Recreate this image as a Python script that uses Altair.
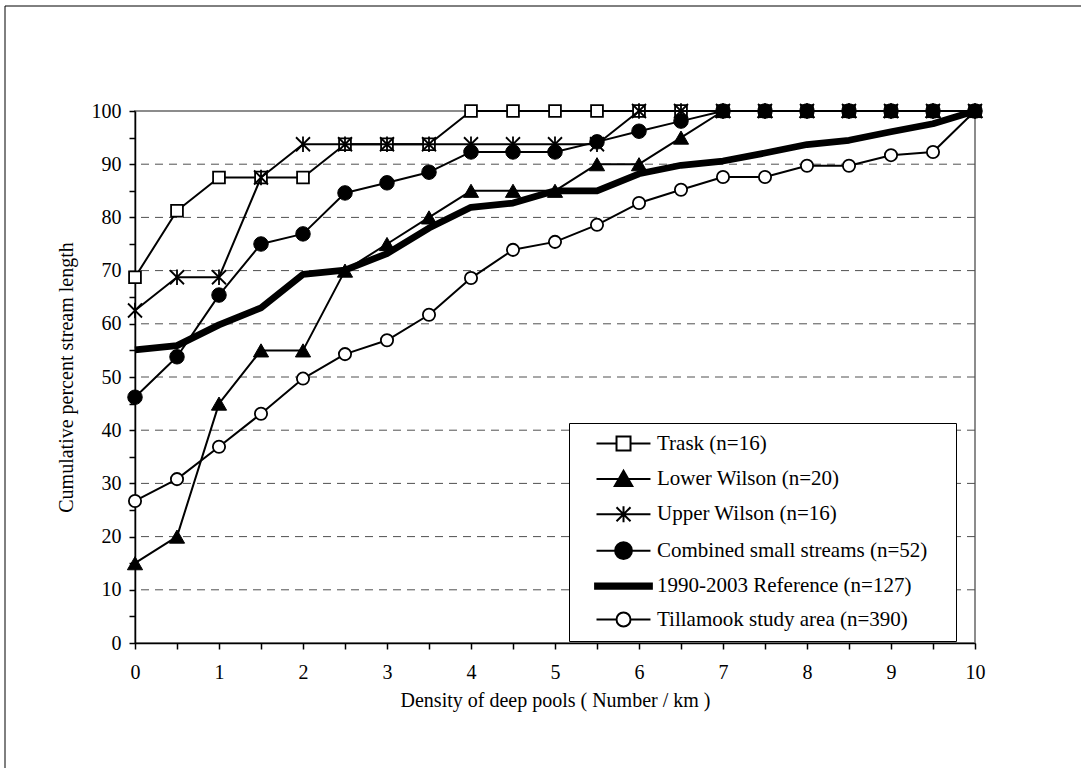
import altair as alt
import pandas as pd

# Density of deep pools (number / km) at which each cumulative value is read
density = [0, 0.5, 1, 1.5, 2, 2.5, 3, 3.5, 4, 4.5, 5, 5.5, 6, 6.5, 7, 7.5, 8, 8.5, 9, 9.5, 10]

# Cumulative percent of stream length per group
trask = [68.75, 81.25, 87.5, 87.5, 87.5, 93.75, 93.75, 93.75, 100, 100, 100,
         100, 100, 100, 100, 100, 100, 100, 100, 100, 100]
lower_wilson = [15, 20, 45, 55, 55, 70, 75, 80, 85, 85, 85,
                90, 90, 95, 100, 100, 100, 100, 100, 100, 100]
upper_wilson = [62.5, 68.75, 68.75, 87.5, 93.75, 93.75, 93.75, 93.75, 93.75, 93.75, 93.75,
                93.75, 100, 100, 100, 100, 100, 100, 100, 100, 100]
combined_small = [46.2, 53.8, 65.4, 75.0, 76.9, 84.6, 86.5, 88.5, 92.3, 92.3, 92.3,
                  94.2, 96.2, 98.1, 100, 100, 100, 100, 100, 100, 100]
reference = [55.1, 55.9, 59.8, 63.0, 69.3, 70.1, 73.2, 78.0, 81.9, 82.7, 85.0,
             85.0, 88.2, 89.8, 90.6, 92.1, 93.7, 94.5, 96.1, 97.6, 100]
tillamook = [26.7, 30.8, 36.9, 43.1, 49.7, 54.3, 56.9, 61.7, 68.6, 73.9, 75.4,
             78.6, 82.7, 85.2, 87.6, 87.6, 89.7, 89.7, 91.7, 92.3, 100]

series_names = [
    "Trask (n=16)",
    "Lower Wilson (n=20)",
    "Upper Wilson (n=16)",
    "Combined small streams (n=52)",
    "1990-2003 Reference (n=127)",
    "Tillamook study area (n=390)",
]
series_values = [trask, lower_wilson, upper_wilson, combined_small, reference, tillamook]

# Drawing order: the study-area curve sits underneath the others
draw_order = [
    "Tillamook study area (n=390)",
    "Trask (n=16)",
    "Lower Wilson (n=20)",
    "Upper Wilson (n=16)",
    "Combined small streams (n=52)",
    "1990-2003 Reference (n=127)",
]

grid_values = [10, 20, 30, 40, 50, 60, 70, 80, 90]
x_ticks = [0, 0.5, 1, 1.5, 2, 2.5, 3, 3.5, 4, 4.5, 5, 5.5, 6, 6.5, 7, 7.5, 8, 8.5, 9, 9.5, 10]
y_ticks = [0, 5, 10, 15, 20, 25, 30, 35, 40, 45, 50, 55, 60, 65, 70, 75, 80, 85, 90, 95, 100]

rows = []
for name, vals in zip(series_names, series_values):
    for d, v in zip(density, vals):
        rows.append({"series": name, "density": d, "pct": v})
df = pd.DataFrame(rows)

FONT = "Liberation Serif"
X_TITLE = "Density of deep pools ( Number / km )"
Y_TITLE = "Cumulative percent stream length"

x_enc = alt.X(
    "density:Q",
    title=X_TITLE,
    scale=alt.Scale(domain=[0, 10], nice=False, zero=False),
    axis=alt.Axis(
        values=x_ticks,
        labelExpr="datum.value % 1 == 0 ? format(datum.value, 'd') : ''",
        tickSize=6,
        labelPadding=13,
        titlePadding=8,
        labelFlush=False,
    ),
)
y_axis = alt.Axis(
    values=y_ticks,
    labelExpr="datum.value % 10 == 0 ? format(datum.value, 'd') : ''",
    tickSize=6,
    labelPadding=8,
    titlePadding=15,
)
y_scale = alt.Scale(domain=[0, 100], nice=False)
y_enc = alt.Y("pct:Q", title=Y_TITLE, scale=y_scale, axis=y_axis)

# Marker style per series (None = line only)
asterisk = "M-1,-1L1,1M-1,1L1,-1M0,-1.1L0,1.1"
marker_styles = {
    "Trask (n=16)": dict(shape="square", fill="white", size=140, strokeWidth=1.8),
    "Lower Wilson (n=20)": dict(shape="triangle-up", fill="black", size=230, strokeWidth=1),
    "Upper Wilson (n=16)": dict(shape=asterisk, fill="transparent", size=196, strokeWidth=1.8),
    "Combined small streams (n=52)": dict(shape="circle", fill="black", size=210, strokeWidth=1),
    "1990-2003 Reference (n=127)": None,
    "Tillamook study area (n=390)": dict(shape="circle", fill="white", size=150, strokeWidth=1.8),
}
line_widths = {name: 2 for name in series_names}
line_widths["1990-2003 Reference (n=127)"] = 6.8

grid = (
    alt.Chart(pd.DataFrame({"g": grid_values}))
    .mark_rule(color="#505050", strokeDash=[8, 6], strokeWidth=1)
    .encode(y=alt.Y("g:Q", title=Y_TITLE, scale=y_scale, axis=y_axis))
)

layers = [grid]
for name in draw_order:
    sub = alt.Chart(df).transform_filter(alt.datum.series == name)
    layers.append(
        sub.mark_line(color="black", strokeWidth=line_widths[name], strokeJoin="round")
        .encode(x=x_enc, y=y_enc)
    )
    style = marker_styles[name]
    if style is not None:
        layers.append(
            sub.mark_point(
                shape=style["shape"],
                filled=True,
                fill=style["fill"],
                stroke="black",
                strokeWidth=style["strokeWidth"],
                size=style["size"],
                opacity=1,
            ).encode(x=x_enc, y=y_enc)
        )

# Legend symbols: line segment with the series marker on it
a, b, m, ext = 1.0, 8.71, 4.86, 50.3
legend_paths = [
    f"M{a},0H{m-1.0}M{m+1.0},0H{b}M{m-1.0},-1.0H{m+1.0}V1.0H{m-1.0}ZM{ext},0",
    f"M{a},0H{b}M{m},-1.15L{m+1.25},1.0L{m-1.25},1.0ZM{ext},0",
    f"M{a},0H{b}M{m-1.0},-1.0L{m+1.0},1.0M{m-1.0},1.0L{m+1.0},-1.0M{m},-1.15V1.15M{ext},0",
    f"M{a},0H{b}M{m+1.2},0A1.2,1.2 0 1,1 {m-1.2},0A1.2,1.2 0 1,1 {m+1.2},0ZM{ext},0",
    f"M{a-0.2},-0.38H{b+0.2}V0.38H{a-0.2}ZM{ext},0",
    f"M{a},0H{m-1.0}M{m+1.0},0H{b}M{m+1.0},0A1.0,1.0 0 1,1 {m-1.0},0A1.0,1.0 0 1,1 {m+1.0},0ZM{ext},0",
]
legend_fills = ["white", "black", "white", "black", "black", "white"]
legend_strokes = ["black"] * 6

legend_def = alt.Legend(
    title=None,
    orient="none",
    legendX=434,
    legendY=312,
    padding=10,
    strokeColor="black",
    fillColor="white",
    symbolSize=196,
    symbolStrokeWidth=2,
    symbolStrokeColor="black",
    symbolOpacity=1,
    labelOffset=57,
    rowPadding=11.4,
    labelFont=FONT,
    labelFontSize=21,
    labelColor="black",
    labelLimit=500,
)
legend_layer = (
    alt.Chart(df)
    .transform_filter("false")
    .mark_point(filled=True, strokeWidth=2, opacity=1)
    .encode(
        shape=alt.Shape("series:N", scale=alt.Scale(domain=series_names, range=legend_paths), legend=legend_def),
        fill=alt.Fill("series:N", scale=alt.Scale(domain=series_names, range=legend_fills), legend=legend_def),
        stroke=alt.Stroke("series:N", scale=alt.Scale(domain=series_names, range=legend_strokes), legend=legend_def),
    )
)
layers.append(legend_layer)

# Page frame lines along the left and top edges
frame_src = pd.DataFrame({"k": [0]})
frame_left = alt.Chart(frame_src).mark_rule(color="black", strokeWidth=1).encode(
    x=alt.value(-130), y=alt.value(-105), y2=alt.value(657)
)
frame_top = alt.Chart(frame_src).mark_rule(color="black", strokeWidth=1).encode(
    x=alt.value(-130), x2=alt.value(946), y=alt.value(-105)
)
layers.extend([frame_left, frame_top])

chart = (
    alt.layer(*layers)
    .properties(
        width=840,
        height=532,
        autosize=alt.AutoSizeParams(type="none"),
        padding={"left": 135, "top": 111, "right": 106, "bottom": 125},
        background="white",
    )
    .configure_view(stroke="#8c8c8c", strokeWidth=2)
    .configure_axis(
        labelFont=FONT,
        labelFontSize=20,
        labelColor="black",
        titleFont=FONT,
        titleFontSize=20,
        titleFontWeight="normal",
        titleColor="black",
        domainColor="black",
        domainWidth=1.5,
        tickColor="black",
        tickWidth=1.5,
        grid=False,
    )
)

chart.save("out.html", embed_options={"renderer": "svg", "actions": False})
